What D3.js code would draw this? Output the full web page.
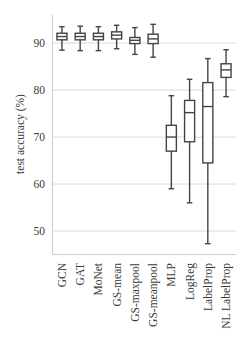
<!DOCTYPE html>
<html>
<head>
<meta charset="utf-8">
<script src="https://cdn.jsdelivr.net/npm/d3@7"></script>
<style>
  body { margin: 0; background: #fff; }
  svg { display: block; }
</style>
</head>
<body>
<svg id="chart" width="250" height="351"></svg>
<script>
const models = ["GCN", "GAT", "MoNet", "GS-mean", "GS-maxpool", "GS-meanpool", "MLP", "LogReg", "LabelProp", "NL LabelProp"];
const whiskerLow  = [88.5, 88.4, 88.4, 88.8, 87.6, 87.0, 59.0, 56.0, 47.3, 78.6];
const q1          = [90.7, 90.7, 90.7, 90.9, 89.9, 89.9, 67.0, 69.0, 64.5, 82.7];
const median      = [91.4, 91.4, 91.4, 91.7, 90.6, 90.9, 70.0, 75.2, 76.5, 84.3];
const q3          = [92.1, 92.1, 92.1, 92.4, 91.2, 91.9, 72.5, 77.8, 81.6, 85.6];
const whiskerHigh = [93.5, 93.6, 93.5, 93.8, 93.3, 94.0, 78.8, 82.3, 86.7, 88.6];
const yTicks = [50, 60, 70, 80, 90];

const data = models.map((m, i) => ({
    name: m, lo: whiskerLow[i], q1: q1[i], med: median[i], q3: q3[i], hi: whiskerHigh[i]
}));

const font = "Liberation Serif";
const fontSize = 11.5;
const textColor = "#3a3a3a";
const margin = {left: 52, right: 14, top: 14, bottom: 97};
const width = 250 - margin.left - margin.right;
const height = 351 - margin.top - margin.bottom;

const xScale = d3.scaleBand()
    .domain(models)
    .range([0, width])
    .paddingInner(0.45)
    .paddingOuter(0.27);

const yScale = d3.scaleLinear()
    .domain([45.1, 96.2])
    .range([height, 0]);

const svg = d3.select("#chart");
const g = svg.append("g")
    .attr("transform", `translate(${margin.left}, ${margin.top})`);

// grid
g.selectAll(".grid").data(yTicks).enter()
    .append("line")
    .attr("x1", 0).attr("x2", width)
    .attr("y1", d => yScale(d)).attr("y2", d => yScale(d))
    .attr("stroke", "#d9d9d9")
    .attr("stroke-width", 1);

// y axis
const yAxis = d3.axisLeft(yScale).tickValues(yTicks).tickSize(0).tickPadding(7);
const y_g = g.append("g").call(yAxis)
    .attr("font-family", font)
    .attr("font-size", fontSize);
y_g.select(".domain").attr("stroke", "#cfcfcf").attr("stroke-width", 1.2);
y_g.selectAll("text").attr("fill", textColor);

y_g.append("text")
    .text("test accuracy (%)")
    .attr("transform", "rotate(-90)")
    .attr("x", -height / 2)
    .attr("y", -28)
    .attr("text-anchor", "middle")
    .attr("fill", textColor);

// x axis
const xAxis = d3.axisBottom(xScale).tickSize(0).tickPadding(8);
const x_g = g.append("g")
    .attr("transform", `translate(0, ${height})`)
    .call(xAxis)
    .attr("font-family", font)
    .attr("font-size", fontSize);
x_g.select(".domain").attr("stroke", "#cfcfcf").attr("stroke-width", 1.2);
x_g.selectAll("text")
    .attr("fill", textColor)
    .attr("text-anchor", "end")
    .attr("dy", "0.35em")
    .attr("transform", "rotate(-90)")
    .attr("x", -9)
    .attr("y", 0);

// boxes
const bw = xScale.bandwidth();
const cap = bw * 0.55;
const stroke = "#444";
const boxes = g.selectAll(".box").data(data).enter()
    .append("g")
    .attr("transform", d => `translate(${xScale(d.name) + bw / 2}, 0)`);

boxes.append("line")
    .attr("x1", 0).attr("x2", 0)
    .attr("y1", d => yScale(d.hi)).attr("y2", d => yScale(d.q3))
    .attr("stroke", stroke).attr("stroke-width", 1.4);
boxes.append("line")
    .attr("x1", 0).attr("x2", 0)
    .attr("y1", d => yScale(d.q1)).attr("y2", d => yScale(d.lo))
    .attr("stroke", stroke).attr("stroke-width", 1.4);
boxes.append("line")
    .attr("x1", -cap / 2).attr("x2", cap / 2)
    .attr("y1", d => yScale(d.hi)).attr("y2", d => yScale(d.hi))
    .attr("stroke", stroke).attr("stroke-width", 1.4);
boxes.append("line")
    .attr("x1", -cap / 2).attr("x2", cap / 2)
    .attr("y1", d => yScale(d.lo)).attr("y2", d => yScale(d.lo))
    .attr("stroke", stroke).attr("stroke-width", 1.4);
boxes.append("rect")
    .attr("x", -bw / 2).attr("width", bw)
    .attr("y", d => yScale(d.q3))
    .attr("height", d => yScale(d.q1) - yScale(d.q3))
    .attr("fill", "#fff")
    .attr("stroke", stroke).attr("stroke-width", 1.4);
boxes.append("line")
    .attr("x1", -bw / 2).attr("x2", bw / 2)
    .attr("y1", d => yScale(d.med)).attr("y2", d => yScale(d.med))
    .attr("stroke", stroke).attr("stroke-width", 1.4);
</script>
</body>
</html>
